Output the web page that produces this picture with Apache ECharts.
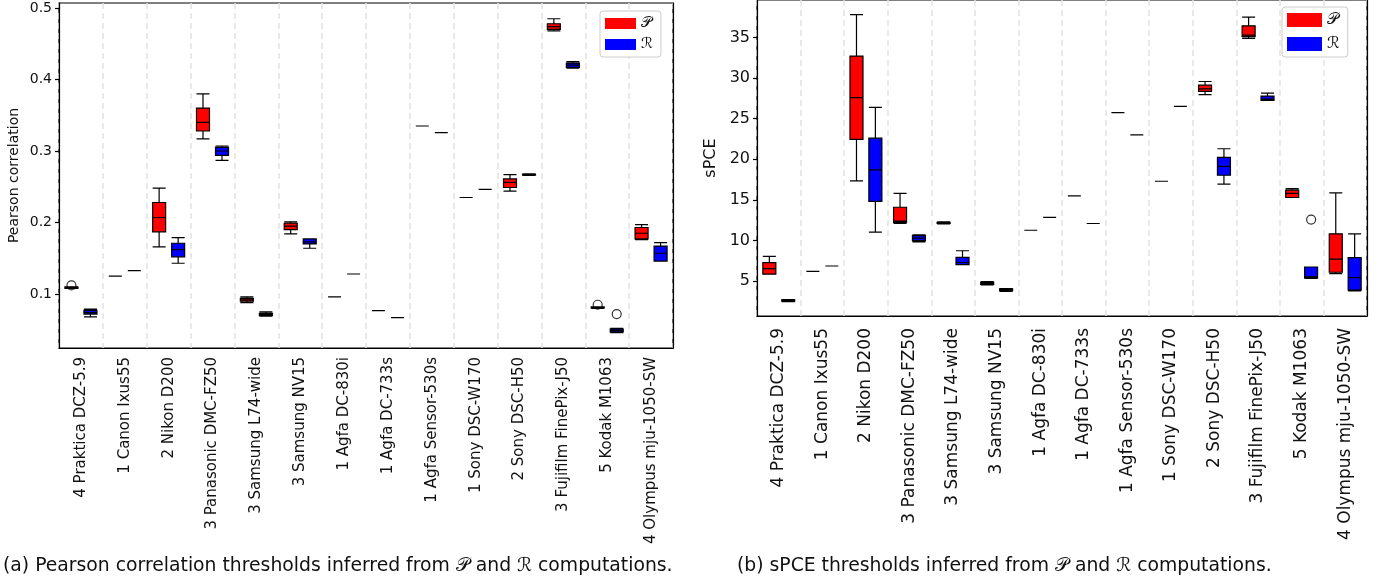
<!DOCTYPE html>
<html>
<head>
<meta charset="utf-8">
<script src="https://cdn.jsdelivr.net/npm/echarts@6/dist/echarts.min.js"></script>
<style>
  html, body { margin: 0; padding: 0; background: #fff; }
  #chart { width: 1381px; height: 585px; }
</style>
</head>
<body>
<div id="chart"></div>
<script>
const cameras = [
  '4 Praktica DCZ-5.9', '1 Canon Ixus55', '2 Nikon D200', '3 Panasonic DMC-FZ50',
  '3 Samsung L74-wide', '3 Samsung NV15', '1 Agfa DC-830i', '1 Agfa DC-733s',
  '1 Agfa Sensor-530s', '1 Sony DSC-W170', '2 Sony DSC-H50', '3 Fujifilm FinePix-J50',
  '5 Kodak M1063', '4 Olympus mju-1050-SW'
]

// [min, q1, median, q3, max]
const pearsonP = [
  [0.108, 0.108, 0.109, 0.110, 0.110],
  [0.125, 0.125, 0.125, 0.125, 0.125],
  [0.166, 0.187, 0.207, 0.228, 0.248],
  [0.317, 0.328, 0.340, 0.360, 0.380],
  [0.088, 0.090, 0.092, 0.094, 0.096],
  [0.184, 0.190, 0.195, 0.199, 0.201],
  [0.096, 0.096, 0.096, 0.096, 0.096],
  [0.0767, 0.0767, 0.0767, 0.0767, 0.0767],
  [0.335, 0.335, 0.335, 0.335, 0.335],
  [0.235, 0.235, 0.235, 0.235, 0.235],
  [0.244, 0.249, 0.256, 0.261, 0.267],
  [0.468, 0.470, 0.474, 0.478, 0.485],
  [0.080, 0.0805, 0.081, 0.082, 0.082],
  [0.176, 0.177, 0.185, 0.193, 0.197]
]
const pearsonR = [
  [0.068, 0.072, 0.074, 0.077, 0.079],
  [0.1326, 0.1326, 0.1326, 0.1326, 0.1326],
  [0.143, 0.152, 0.162, 0.171, 0.179],
  [0.287, 0.294, 0.300, 0.305, 0.307],
  [0.069, 0.070, 0.072, 0.073, 0.075],
  [0.164, 0.170, 0.173, 0.177, 0.177],
  [0.128, 0.128, 0.128, 0.128, 0.128],
  [0.067, 0.067, 0.067, 0.067, 0.067],
  [0.3256, 0.3256, 0.3256, 0.3256, 0.3256],
  [0.2464, 0.2464, 0.2464, 0.2464, 0.2464],
  [0.266, 0.2665, 0.267, 0.2675, 0.268],
  [0.416, 0.417, 0.420, 0.423, 0.425],
  [0.046, 0.047, 0.049, 0.051, 0.052],
  [0.146, 0.146, 0.157, 0.167, 0.172]
]
const pearsonOutP = [[0, 0.112], [12, 0.085]]
const pearsonOutR = [[12, 0.072]]

const spceP = [
  [5.86, 5.86, 6.55, 7.29, 8.06],
  [6.22, 6.22, 6.22, 6.22, 6.22],
  [17.35, 22.44, 27.58, 32.7, 37.8],
  [12.1, 12.25, 12.4, 14.1, 15.8],
  [12.05, 12.1, 12.17, 12.25, 12.3],
  [4.55, 4.6, 4.72, 4.85, 4.95],
  [11.27, 11.27, 11.27, 11.27, 11.27],
  [15.51, 15.51, 15.51, 15.51, 15.51],
  [25.74, 25.74, 25.74, 25.74, 25.74],
  [17.3, 17.3, 17.3, 17.3, 17.3],
  [27.95, 28.35, 28.67, 29.12, 29.57],
  [34.87, 35.1, 35.28, 36.42, 37.5],
  [15.3, 15.3, 15.8, 16.2, 16.4],
  [5.94, 6.1, 7.73, 10.83, 15.88]
]
const spceR = [
  [2.5, 2.55, 2.64, 2.7, 2.75],
  [6.87, 6.87, 6.87, 6.87, 6.87],
  [11.03, 14.82, 18.69, 22.6, 26.4],
  [9.85, 10.0, 10.3, 10.62, 10.7],
  [7.04, 7.04, 7.3, 7.93, 8.75],
  [3.75, 3.85, 3.98, 4.05, 4.1],
  [12.86, 12.86, 12.86, 12.86, 12.86],
  [12.1, 12.1, 12.1, 12.1, 12.1],
  [23.0, 23.0, 23.0, 23.0, 23.0],
  [26.5, 26.5, 26.5, 26.5, 26.5],
  [16.94, 18.04, 19.14, 20.24, 21.3],
  [27.25, 27.25, 27.4, 27.78, 28.14],
  [5.35, 5.4, 5.53, 6.75, 6.75],
  [3.81, 3.9, 5.45, 7.9, 10.83]
]
const spceOutR = [[12, 12.58]]

const pearsonTicks = [0.1, 0.2, 0.3, 0.4, 0.5]
const spceTicks = [5, 10, 15, 20, 25, 30, 35]

const nameP = '\u{1D4AB}'
const nameR = '\u211B'
const font = 'DejaVu Sans'

const chart = echarts.init(document.getElementById('chart'))

const xAxisBase = (gridIndex, size, margin) => ({
  type: 'category',
  gridIndex,
  data: cameras,
  boundaryGap: true,
  axisLine: { lineStyle: { color: '#000', width: 1.2 } },
  axisTick: { alignWithLabel: true, length: 4, lineStyle: { color: '#000', width: 1.2 } },
  axisLabel: { rotate: 90, margin, color: '#111', fontSize: size, fontFamily: font, interval: 0 },
  splitLine: { show: true, lineStyle: { color: '#e2e2e2', width: 1.5, type: [6, 4] } }
})

const yAxisBase = (gridIndex, size, min, max, ticks, name, gap, digits) => ({
  type: 'value',
  gridIndex,
  min,
  max,
  name,
  z: 3,
  nameLocation: 'middle',
  nameGap: gap,
  nameTextStyle: { color: '#111', fontSize: size, fontFamily: font },
  axisLine: { show: true, lineStyle: { color: '#000', width: 1.2 } },
  axisTick: { show: true, length: 4, customValues: ticks, lineStyle: { color: '#000', width: 1.2 } },
  axisLabel: {
    color: '#111', fontSize: size, fontFamily: font, margin: 7,
    customValues: ticks,
    formatter: v => v.toFixed(digits)
  },
  splitLine: { show: false }
})

// plain right-hand frame line drawn above the dashed category lines
const rightFrame = (gridIndex, min, max) => ({
  type: 'value',
  gridIndex,
  position: 'right',
  min,
  max,
  z: 3,
  axisLine: { show: true, lineStyle: { color: '#000', width: 1.2 } },
  axisTick: { show: false },
  axisLabel: { show: false },
  splitLine: { show: false }
})

const boxSeries = (name, data, color, axisIndex) => ({
  name,
  type: 'boxplot',
  xAxisIndex: axisIndex,
  yAxisIndex: axisIndex,
  data,
  boxWidth: [13, 13],
  itemStyle: { color, borderColor: '#000', borderWidth: 1.2 },
  emphasis: { disabled: true }
})

const outlierSeries = (name, data, offset, axisIndex) => ({
  name,
  type: 'scatter',
  xAxisIndex: axisIndex,
  yAxisIndex: axisIndex,
  data,
  symbol: 'circle',
  symbolSize: 9,
  symbolOffset: [offset, 0],
  itemStyle: { color: 'rgba(255,255,255,0)', borderColor: '#000', borderWidth: 1.2 },
  z: 5
})

const legendBase = (left, top, w, h, size, gap) => ({
  orient: 'vertical',
  left,
  top,
  itemWidth: w,
  itemHeight: h,
  itemGap: gap,
  padding: [5, 8, 5, 5],
  backgroundColor: '#fff',
  borderColor: '#ccc',
  borderWidth: 1,
  borderRadius: 3,
  textStyle: { fontSize: size, fontFamily: font, color: '#111' },
  data: [
    { name: nameP, icon: 'rect', itemStyle: { color: '#ff0000', borderWidth: 0 } },
    { name: nameR, icon: 'rect', itemStyle: { color: '#0000ff', borderWidth: 0 } }
  ]
})

chart.setOption({
  animation: false,
  grid: [
    { left: 59, top: 3, width: 614, height: 345, show: true, borderColor: '#000', borderWidth: 1.2 },
    { left: 757, top: -2, width: 610, height: 318, show: true, borderColor: '#000', borderWidth: 1.2 }
  ],
  xAxis: [xAxisBase(0, 15, 9), xAxisBase(1, 17, 12)],
  yAxis: [
    yAxisBase(0, 14, 0.0245, 0.507, pearsonTicks, 'Pearson correlation', 38, 1),
    yAxisBase(1, 16, 0.72, 39.6, spceTicks, 'sPCE', 38, 0),
    rightFrame(0, 0.0245, 0.507),
    rightFrame(1, 0.72, 39.6)
  ],
  legend: [
    legendBase(600, 11, 31, 11, 15, 6),
    legendBase(1282, 7, 35, 14, 16, 8)
  ],
  series: [
    boxSeries(nameP, pearsonP, '#ff0000', 0),
    boxSeries(nameR, pearsonR, '#0000ff', 0),
    outlierSeries(nameP, pearsonOutP, -9.5, 0),
    outlierSeries(nameR, pearsonOutR, 9.5, 0),
    boxSeries(nameP, spceP, '#ff0000', 1),
    boxSeries(nameR, spceR, '#0000ff', 1),
    outlierSeries(nameR, spceOutR, 9.5, 1)
  ],
  graphic: [
    {
      type: 'text', left: 3, top: 557,
      style: { text: '(a) Pearson correlation thresholds inferred from ' + nameP + ' and ' + nameR + ' computations.', fontSize: 18.8, fontFamily: font, fill: '#111' }
    },
    {
      type: 'text', left: 737, top: 557,
      style: { text: '(b) sPCE thresholds inferred from ' + nameP + ' and ' + nameR + ' computations.', fontSize: 18.8, fontFamily: font, fill: '#111' }
    }
  ]
})
</script>
</body>
</html>
